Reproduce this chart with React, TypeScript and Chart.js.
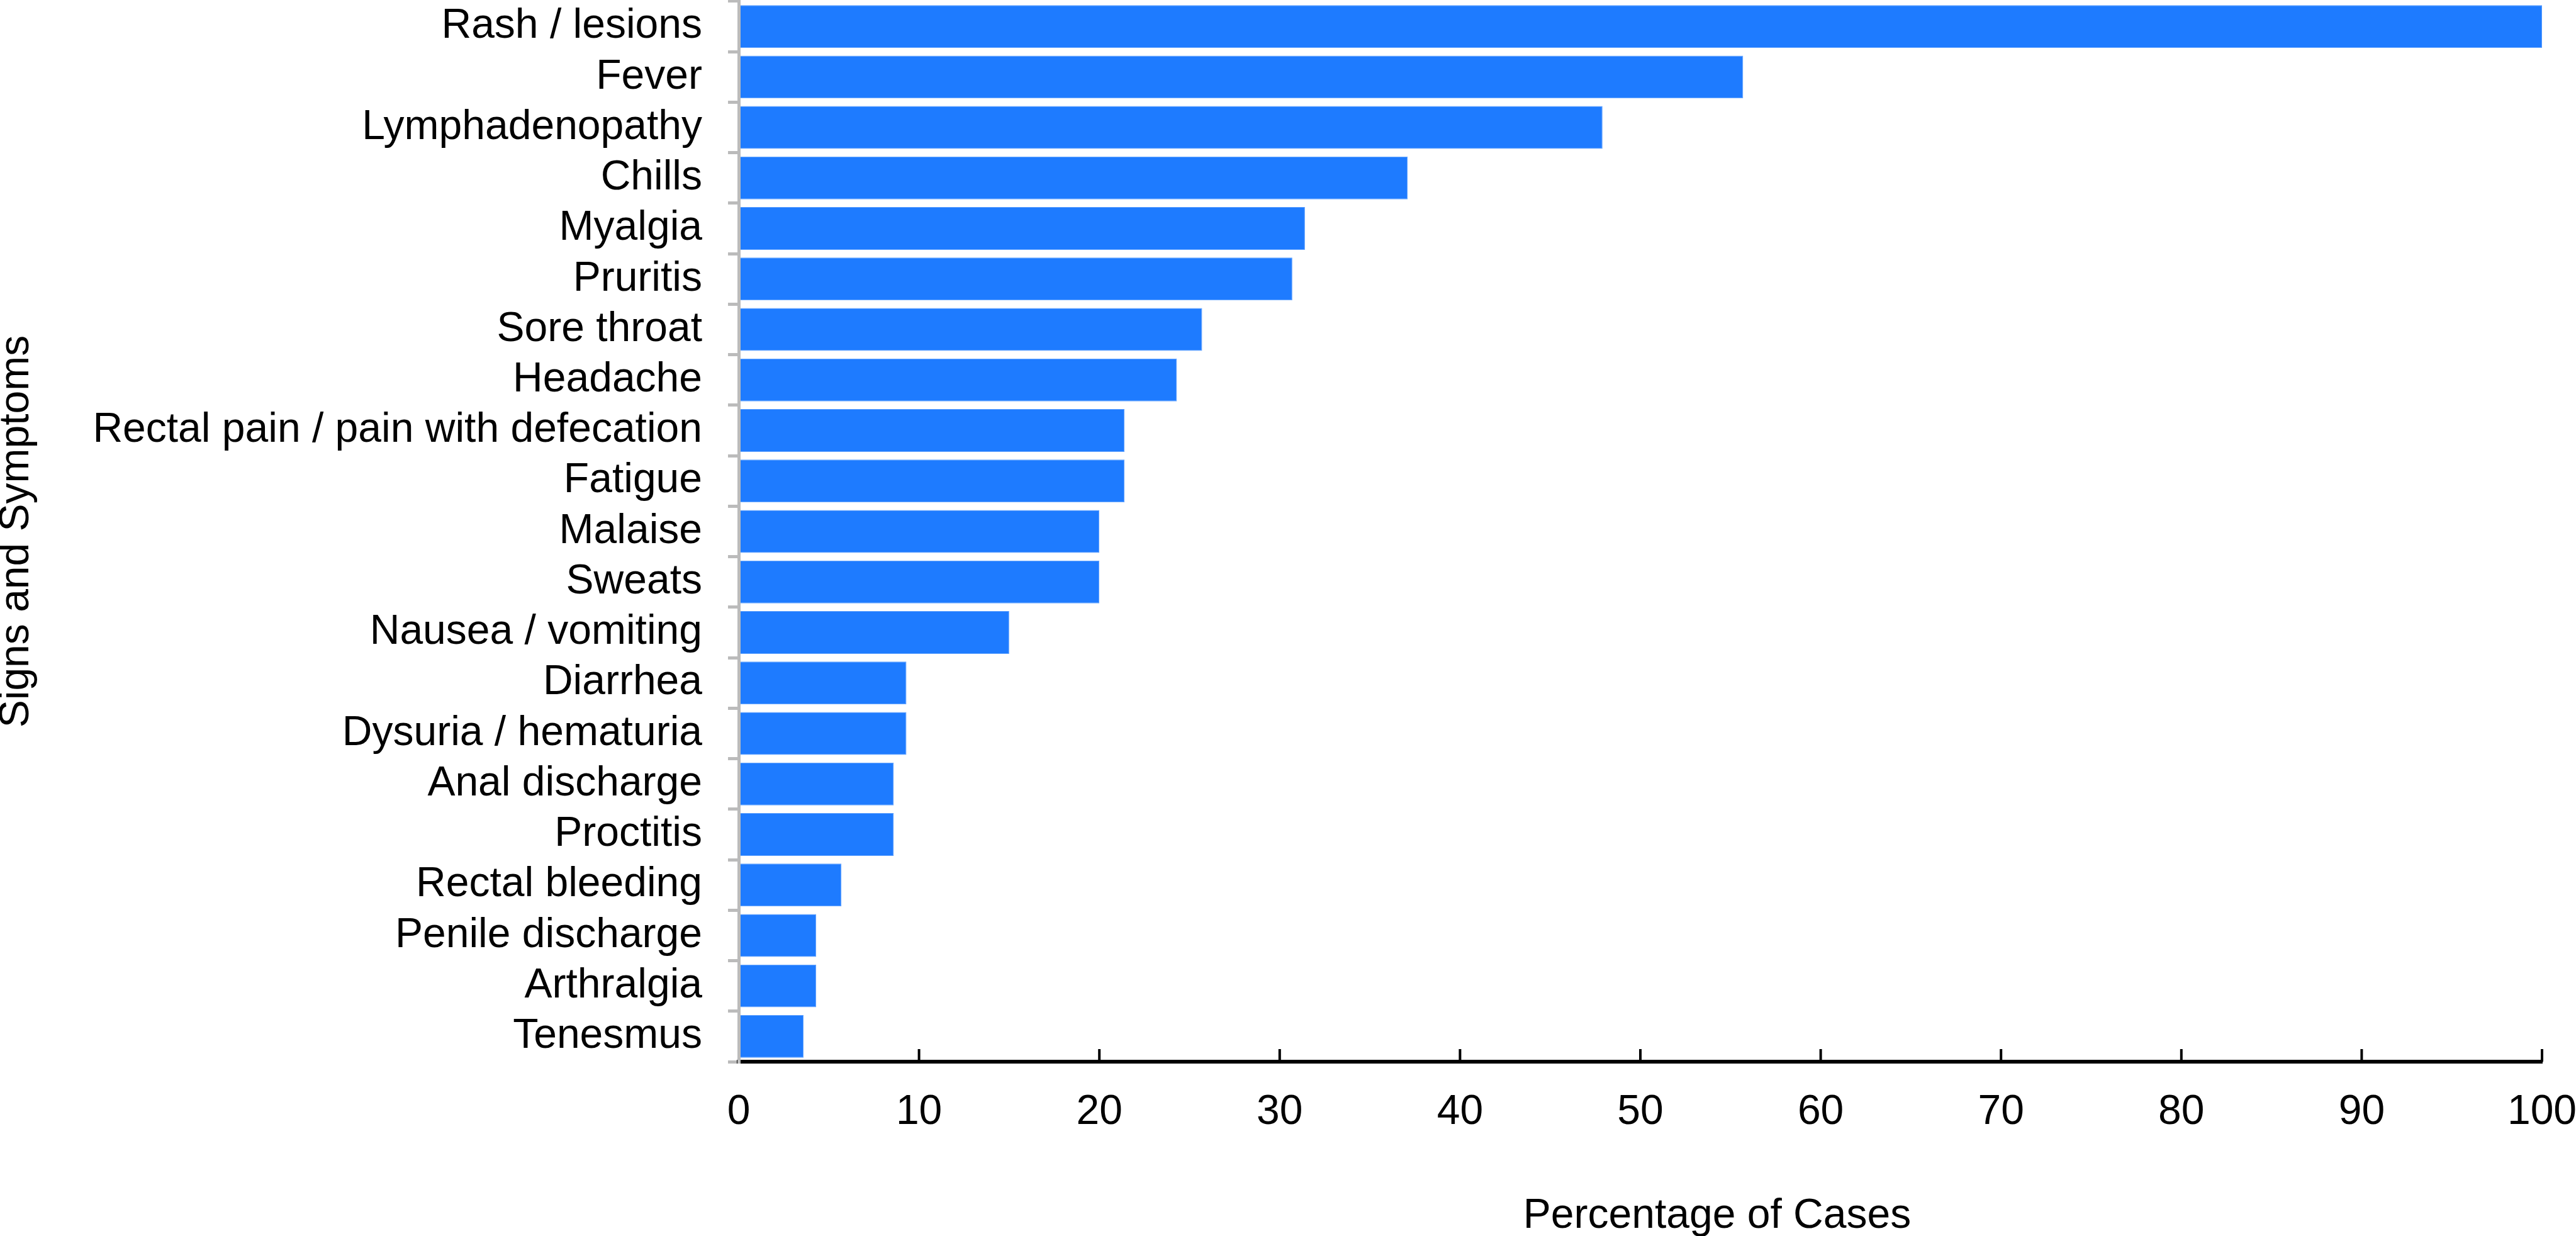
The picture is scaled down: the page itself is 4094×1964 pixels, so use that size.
import React, { useEffect, useRef } from "react";
import { Chart, registerables } from "chart.js";

Chart.register(...registerables);

const categories = [
  "Rash / lesions",
  "Fever",
  "Lymphadenopathy",
  "Chills",
  "Myalgia",
  "Pruritis",
  "Sore throat",
  "Headache",
  "Rectal pain / pain with defecation",
  "Fatigue",
  "Malaise",
  "Sweats",
  "Nausea / vomiting",
  "Diarrhea",
  "Dysuria / hematuria",
  "Anal discharge",
  "Proctitis",
  "Rectal bleeding",
  "Penile discharge",
  "Arthralgia",
  "Tenesmus",
];

const percentages = [
  100, 55.7, 47.9, 37.1, 31.4, 30.7, 25.7, 24.3, 21.4, 21.4, 20.0, 20.0, 15.0,
  9.3, 9.3, 8.6, 8.6, 5.7, 4.3, 4.3, 3.6,
];

const xTickValues = [0, 10, 20, 30, 40, 50, 60, 70, 80, 90, 100];

const X_TITLE = "Percentage of Cases";
const Y_TITLE = "Signs and Symptoms";

const FONT_FAMILY = '"Liberation Sans", Arial, Helvetica, sans-serif';
const FONT_SIZE = 66;
const BAR_COLOR = "#1e7bff";
const GREY = "#bbbbbb";

const W = 4094;
const H = 1964;

const xDecorPlugin = {
  id: "xDecor",
  afterDraw(chart: any) {
    const xs = chart.scales.x;
    const ca = chart.chartArea;
    const ctx = chart.ctx;
    ctx.save();
    ctx.strokeStyle = "#000";
    ctx.lineWidth = 4;
    xs.ticks.forEach((t: any) => {
      if (t.value <= 0) return;
      const px = xs.getPixelForValue(t.value);
      ctx.beginPath();
      ctx.moveTo(px, ca.bottom);
      ctx.lineTo(px, ca.bottom - 20);
      ctx.stroke();
    });
    ctx.font = `${FONT_SIZE}px ${FONT_FAMILY}`;
    ctx.fillStyle = "#000";
    ctx.textAlign = "center";
    ctx.textBaseline = "alphabetic";
    ctx.fillText(X_TITLE, (ca.left + ca.right) / 2 + 122, chart.height - 13);
    ctx.restore();
  },
};

export default function App() {
  const ref = useRef<HTMLCanvasElement | null>(null);

  useEffect(() => {
    document.body.style.margin = "0";
    document.body.style.overflow = "hidden";
    if (!ref.current) return;
    const chart = new Chart(ref.current, {
      type: "bar",
      data: {
        labels: categories,
        datasets: [
          {
            data: percentages,
            backgroundColor: BAR_COLOR,
            borderColor: "#5a9eff",
            borderWidth: 1,
            barPercentage: 0.847,
            categoryPercentage: 1,
          },
        ],
      },
      options: {
        indexAxis: "y",
        responsive: false,
        animation: false,
        devicePixelRatio: 1,
        layout: { padding: { top: 2, right: 54, bottom: 0, left: 0 } },
        plugins: {
          legend: { display: false },
          tooltip: { enabled: false },
          title: { display: false },
        },
        scales: {
          x: {
            type: "linear",
            min: 0,
            max: 100,
            afterBuildTicks: (scale: any) => {
              scale.ticks = xTickValues.map((v) => ({ value: v }));
            },
            afterFit: (scale: any) => {
              scale.height = 277;
              scale.paddingLeft = 0;
              scale.paddingRight = 0;
              scale.paddingTop = 0;
              scale.paddingBottom = 0;
            },
            grid: { drawOnChartArea: false, drawTicks: false },
            border: { display: true, color: "#000", width: 6 },
            ticks: {
              color: "#000",
              padding: 41,
              font: { family: FONT_FAMILY, size: FONT_SIZE },
              maxRotation: 0,
              autoSkip: false,
            },
            title: { display: false },
          },
          y: {
            type: "category",
            afterFit: (scale: any) => {
              scale.width = 1174;
              scale.paddingLeft = 0;
              scale.paddingRight = 0;
              scale.paddingTop = 0;
              scale.paddingBottom = 0;
            },
            grid: {
              offset: true,
              drawOnChartArea: false,
              drawTicks: true,
              tickLength: 17,
              color: GREY,
              lineWidth: 5,
            },
            border: { display: true, color: GREY, width: 5, z: 1 },
            ticks: {
              color: "#000",
              padding: 41,
              autoSkip: false,
              font: { family: FONT_FAMILY, size: FONT_SIZE },
            },
            title: {
              display: true,
              text: Y_TITLE,
              color: "#000",
              padding: { top: 0, bottom: 0 },
              font: { family: FONT_FAMILY, size: FONT_SIZE, lineHeight: 0.8 },
            },
          },
        },
      } as any,
      plugins: [xDecorPlugin],
    });
    return () => chart.destroy();
  }, []);

  return (
    <div style={{ width: W, height: H }}>
      <canvas ref={ref} width={W} height={H} style={{ display: "block", width: W, height: H }} />
    </div>
  );
}
